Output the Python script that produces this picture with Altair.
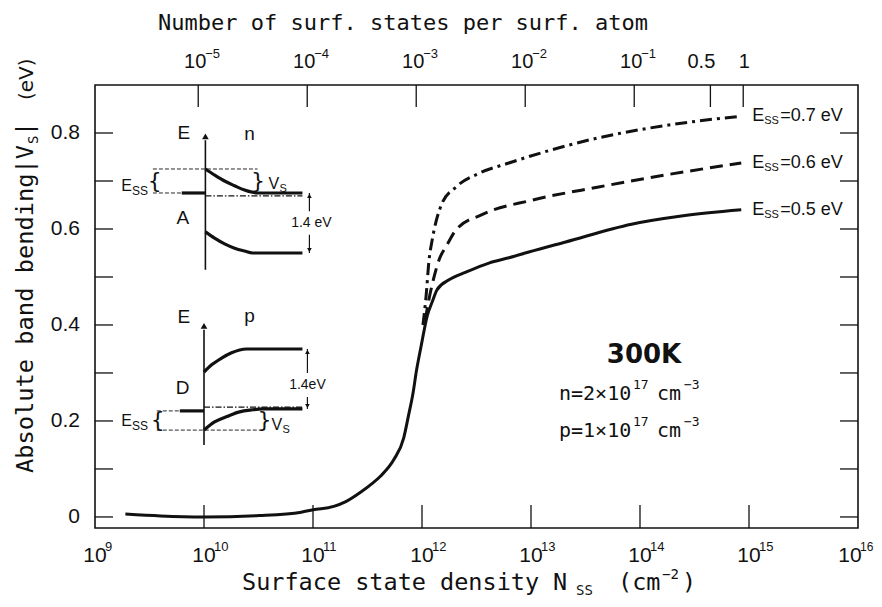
import altair as alt
import pandas as pd

# ---------------- values ----------------
# Surface state density N_ss (cm^-2) and absolute band bending |V_s| (eV)
n_05 = [1.9e9, 4.0e9, 1.0e10, 3.2e10, 7.8e10, 1.0e11, 1.55e11, 2.0e11, 2.75e11, 3.5e11, 4.2e11,
        5.5e11, 6.8e11, 7.5e11, 8.3e11, 8.9e11, 9.8e11, 1.12e12, 1.25e12, 1.37e12,
        1.77e12, 2.53e12, 4.11e12, 6.27e12, 9.55e12, 2.08e13, 8.36e13, 2.4e14, 8.49e14]
v_05 = [0.006, 0.002, 0.0, 0.003, 0.010, 0.015, 0.022, 0.032, 0.052, 0.070, 0.086,
        0.119, 0.165, 0.210, 0.260, 0.305, 0.355, 0.420, 0.450, 0.473,
        0.494, 0.510, 0.529, 0.540, 0.552, 0.573, 0.610, 0.627, 0.640]

n_06 = [1.07e12, 1.15e12, 1.29e12, 1.43e12, 1.70e12, 2.05e12, 3.55e12, 1.02e13, 4.17e13, 1.71e14, 8.49e14]
v_06 = [0.41, 0.45, 0.50, 0.535, 0.567, 0.598, 0.63, 0.66, 0.6875, 0.7125, 0.7375]

n_07 = [1.02e12, 1.09e12, 1.16e12, 1.24e12, 1.53e12, 2.05e12, 3.33e12, 6.27e12, 1.55e13,
        4.17e13, 1.2e14, 3.43e14, 8.49e14]
v_07 = [0.40, 0.46, 0.535, 0.577, 0.654, 0.6875, 0.716, 0.7375, 0.765,
        0.79, 0.81, 0.825, 0.835]

curve_names = ["0.5", "0.6", "0.7"]

# axes
x_tick_values = [1e10, 1e11, 1e12, 1e13, 1e14, 1e15]
x_label_values = [1e9, 1e10, 1e11, 1e12, 1e13, 1e14, 1e15, 1e16]
x_label_exps = ["9", "10", "11", "12", "13", "14", "15", "16"]
y_tick_values = [0.0, 0.1, 0.2, 0.3, 0.4, 0.5, 0.6, 0.7, 0.8]
y_label_values = [0.0, 0.2, 0.4, 0.6, 0.8]
y_label_texts = ["0", "0.2", "0.4", "0.6", "0.8"]
surf_atoms = 8.85e14          # surface atoms per cm^2 (top axis conversion)
top_fraction = [1e-5, 1e-4, 1e-3, 1e-2, 1e-1, 0.5, 1]
top_base = ["10", "10", "10", "10", "10", "0.5", "1"]
top_exp = ["\u22125", "\u22124", "\u22123", "\u22122", "\u22121", "", ""]

# inset schematics (band diagrams), in the same N / V units
insA_axis_N = [1.03e10, 1.03e10]
insA_axis_V = [0.515, 0.785]
insA_cb_N = [1.03e10, 1.25e10, 1.545e10, 1.91e10, 2.355e10, 3.1e10, 8.0e10]
insA_cb_V = [0.725, 0.7125, 0.70, 0.69, 0.681, 0.675, 0.675]
insA_vb_N = [1.03e10, 1.25e10, 1.545e10, 1.91e10, 2.355e10, 2.79e10, 8.0e10]
insA_vb_V = [0.594, 0.581, 0.569, 0.560, 0.554, 0.55, 0.55]
insA_stub_N = [6.25e9, 1.03e10]
insA_stub_V = [0.675, 0.675]
insA_ef_N = [1.03e10, 8.0e10]
insA_ef_V = [0.669, 0.669]
insA_brtop_N = [3.4e9, 3.1e10]
insA_brtop_V = [0.725, 0.725]
insA_brbot_N = [3.4e9, 6.25e9]
insA_brbot_V = [0.675, 0.675]
insA_gap_N = 9.27e10
insA_gap_V = [0.675, 0.55]

insD_axis_N = [1.0e10, 1.0e10]
insD_axis_V = [0.15, 0.39]
insD_cb_N = [1.0e10, 1.175e10, 1.45e10, 1.79e10, 2.12e10, 2.46e10, 8.0e10]
insD_cb_V = [0.302, 0.317, 0.331, 0.342, 0.348, 0.35, 0.35]
insD_vb_N = [1.0e10, 1.25e10, 1.65e10, 2.12e10, 2.73e10, 3.44e10, 8.0e10]
insD_vb_V = [0.181, 0.198, 0.210, 0.219, 0.223, 0.225, 0.225]
insD_stub_N = [6.0e9, 1.0e10]
insD_stub_V = [0.221, 0.221]
insD_ef_N = [1.0e10, 8.0e10]
insD_ef_V = [0.229, 0.229]
insD_brtop_N = [3.69e9, 6.0e9]
insD_brtop_V = [0.221, 0.221]
insD_brbot_N = [3.69e9, 3.44e10]
insD_brbot_V = [0.181, 0.181]
insD_gap_N = 8.89e10
insD_gap_V = [0.35, 0.225]

# ---------------- layout / style ----------------
W, H = 763, 443
X0, Y0 = 95, 85
MONO = "DejaVu Sans Mono"
SANS = "Liberation Sans, Arial, sans-serif"
NARROW = "Liberation Sans Narrow, Arial Narrow, Liberation Sans, sans-serif"
INK = "#111111"

xs = alt.Scale(type="log", domain=[1e9, 1e16])
ys = alt.Scale(domain=[-0.023, 0.9], zero=False, nice=False)
ONE = pd.DataFrame({"k": [0]})


def xenc():
    return alt.X("N:Q", scale=xs, axis=None)


def yenc():
    return alt.Y("V:Q", scale=ys, axis=None)


def line(N, V, width=3.0, dash=None, interp="monotone"):
    df = pd.DataFrame({"N": N, "V": V, "i": list(range(len(N)))})
    kw = dict(color=INK, strokeWidth=width, interpolate=interp, strokeJoin="round")
    if dash:
        kw["strokeDash"] = dash
    return alt.Chart(df).mark_line(**kw).encode(x=xenc(), y=yenc(), order="i:Q")


def tri(N, V, shape, size=40):
    df = pd.DataFrame({"N": [N], "V": [V]})
    return alt.Chart(df).mark_point(shape=shape, filled=True, size=size, color=INK,
                                    opacity=1, strokeWidth=0).encode(x=xenc(), y=yenc())


def label(s, px, py, size, font=MONO, align="left", baseline="alphabetic", angle=0, weight="normal"):
    return alt.Chart(ONE).mark_text(text=s, font=font, fontSize=size, align=align,
                                    baseline=baseline, angle=angle, fontWeight=weight,
                                    color=INK).encode(x=alt.value(px - X0), y=alt.value(py - Y0))


def dlabel(s, N, V, size, font=NARROW, align="center", baseline="middle", dx=0, dy=0):
    df = pd.DataFrame({"N": [N], "V": [V]})
    return alt.Chart(df).mark_text(text=s, font=font, fontSize=size, align=align,
                                   baseline=baseline, dx=dx, dy=dy, color=INK).encode(x=xenc(), y=yenc())


layers = []

# ---- ticks (inward) ----
layers.append(alt.Chart(pd.DataFrame({"N": x_tick_values})).mark_rule(color=INK, strokeWidth=1.3)
              .encode(x=xenc(), y=alt.value(H), y2=alt.value(H - 23)))
top_df = pd.DataFrame({"f": top_fraction, "base": top_base, "exp": top_exp})
top_df["N"] = top_df["f"] * surf_atoms
layers.append(alt.Chart(top_df).mark_rule(color=INK, strokeWidth=1.3)
              .encode(x=xenc(), y=alt.value(0), y2=alt.value(22)))
ytk = pd.DataFrame({"V": y_tick_values})
layers.append(alt.Chart(ytk).mark_rule(color=INK, strokeWidth=1.3)
              .encode(y=yenc(), x=alt.value(0), x2=alt.value(18)))
layers.append(alt.Chart(ytk).mark_rule(color=INK, strokeWidth=1.3)
              .encode(y=yenc(), x=alt.value(W - 18), x2=alt.value(W)))

# ---- tick labels ----
xl = pd.DataFrame({"N": x_label_values, "exp": x_label_exps})
xl_main = xl.iloc[:-1]
xl_last = xl.iloc[[-1]]
layers.append(alt.Chart(xl_main).mark_text(text="10", font=NARROW, fontSize=21, align="center",
                                           baseline="alphabetic", color=INK)
              .encode(x=xenc(), y=alt.value(H + 34)))
layers.append(alt.Chart(xl_main).mark_text(font=NARROW, fontSize=13, align="left",
                                           baseline="alphabetic", dx=10, color=INK)
              .encode(x=xenc(), y=alt.value(H + 23), text="exp:N"))
layers.append(alt.Chart(xl_last).mark_text(text="10", font=NARROW, fontSize=21, align="center",
                                           baseline="alphabetic", dx=-8, color=INK)
              .encode(x=xenc(), y=alt.value(H + 34)))
layers.append(alt.Chart(xl_last).mark_text(font=NARROW, fontSize=12, align="left",
                                           baseline="alphabetic", dx=2, color=INK)
              .encode(x=xenc(), y=alt.value(H + 23), text="exp:N"))
top_main = top_df[top_df["exp"] != ""]
top_plain = top_df[top_df["exp"] == ""]
layers.append(alt.Chart(top_main).mark_text(font=NARROW, fontSize=20, align="center",
                                            baseline="alphabetic", dx=-3, color=INK)
              .encode(x=xenc(), y=alt.value(-17), text="base:N"))
layers.append(alt.Chart(top_main).mark_text(font=NARROW, fontSize=13, align="left",
                                            baseline="alphabetic", dx=7, color=INK)
              .encode(x=xenc(), y=alt.value(-27), text="exp:N"))
layers.append(alt.Chart(top_plain.iloc[[0]]).mark_text(font=NARROW, fontSize=20, align="center",
                                                       baseline="alphabetic", dx=-9, color=INK)
              .encode(x=xenc(), y=alt.value(-17), text="base:N"))
layers.append(alt.Chart(top_plain.iloc[[1]]).mark_text(font=NARROW, fontSize=20, align="center",
                                                       baseline="alphabetic", dx=1, color=INK)
              .encode(x=xenc(), y=alt.value(-17), text="base:N"))
yl = pd.DataFrame({"V": y_label_values, "t": y_label_texts})
layers.append(alt.Chart(yl).mark_text(font=SANS, fontSize=21, align="right", baseline="middle",
                                      color=INK)
              .encode(y=yenc(), x=alt.value(-15), text="t:N"))

# ---- main curves ----
layers.append(line(n_05, v_05, 3.0))
layers.append(line(n_06, v_06, 3.0, dash=[13, 7]))
layers.append(line(n_07, v_07, 3.0, dash=[12, 5, 3, 5]))

# curve labels  E_ss = ... eV
for N_list, V_list, name in [(n_07, v_07, curve_names[2]), (n_06, v_06, curve_names[1]),
                             (n_05, v_05, curve_names[0])]:
    layers.append(dlabel("E", N_list[-1], V_list[-1], 18, align="left", dx=11))
    layers.append(dlabel("SS", N_list[-1], V_list[-1], 11, align="left", dx=23, dy=5))
    layers.append(dlabel("=" + name + " eV", N_list[-1], V_list[-1], 18, align="left", dx=39))

# ---- inset A (n-type) ----
layers.append(line(insA_axis_N, insA_axis_V, 1.6, interp="linear"))
layers.append(tri(insA_axis_N[0], 0.793, "triangle-up", 45))
layers.append(line(insA_cb_N, insA_cb_V, 3.2))
layers.append(line(insA_vb_N, insA_vb_V, 3.2))
layers.append(line(insA_stub_N, insA_stub_V, 3.2, interp="linear"))
layers.append(line(insA_ef_N, insA_ef_V, 1.2, dash=[6, 2, 1.5, 2], interp="linear"))
layers.append(line(insA_brtop_N, insA_brtop_V, 0.9, dash=[4, 2], interp="linear"))
layers.append(line(insA_brbot_N, insA_brbot_V, 0.9, dash=[4, 2], interp="linear"))
layers.append(line([insA_gap_N, insA_gap_N], [insA_gap_V[0], 0.637], 1.2, interp="linear"))
layers.append(line([insA_gap_N, insA_gap_N], [0.588, insA_gap_V[1]], 1.2, interp="linear"))
layers.append(tri(insA_gap_N, insA_gap_V[0] - 0.006, "triangle-up", 22))
layers.append(tri(insA_gap_N, insA_gap_V[1] + 0.006, "triangle-down", 22))
layers.append(dlabel("1.4 eV", 9.66e10, 0.6125, 14))
layers.append(dlabel("{", 3.54e9, 0.70, 22, font="DejaVu Sans"))
layers.append(dlabel("}", 3.13e10, 0.70, 22, font="DejaVu Sans"))
layers.append(dlabel("E", 2.18e9, 0.69, 16, align="right"))
layers.append(dlabel("SS", 2.18e9, 0.69, 12, align="left", dy=5))
layers.append(dlabel("V", 3.67e10, 0.694, 16, align="left", dx=3))
layers.append(dlabel("S", 3.67e10, 0.694, 11, align="left", dx=14, dy=5))
layers.append(dlabel("E", 6.52e9, 0.80, 19))
layers.append(dlabel("n", 2.62e10, 0.798, 19))
layers.append(dlabel("A", 6.38e9, 0.623, 19))

# ---- inset D (p-type) ----
layers.append(line(insD_axis_N, insD_axis_V, 1.6, interp="linear"))
layers.append(tri(insD_axis_N[0], 0.398, "triangle-up", 45))
layers.append(line(insD_cb_N, insD_cb_V, 3.2))
layers.append(line(insD_vb_N, insD_vb_V, 3.2))
layers.append(line(insD_stub_N, insD_stub_V, 3.2, interp="linear"))
layers.append(line(insD_ef_N, insD_ef_V, 1.2, dash=[6, 2, 1.5, 2], interp="linear"))
layers.append(line(insD_brtop_N, insD_brtop_V, 0.9, dash=[4, 2], interp="linear"))
layers.append(line(insD_brbot_N, insD_brbot_V, 0.9, dash=[4, 2], interp="linear"))
layers.append(line([insD_gap_N, insD_gap_N], [insD_gap_V[0], 0.30], 1.2, interp="linear"))
layers.append(line([insD_gap_N, insD_gap_N], [0.25, insD_gap_V[1]], 1.2, interp="linear"))
layers.append(tri(insD_gap_N, insD_gap_V[0] - 0.006, "triangle-up", 22))
layers.append(tri(insD_gap_N, insD_gap_V[1] + 0.006, "triangle-down", 22))
layers.append(dlabel("1.4eV", 8.89e10, 0.275, 14))
layers.append(dlabel("{", 3.77e9, 0.202, 22, font="DejaVu Sans"))
layers.append(dlabel("}", 3.59e10, 0.202, 22, font="DejaVu Sans"))
layers.append(dlabel("E", 2.18e9, 0.20, 16, align="right"))
layers.append(dlabel("SS", 2.18e9, 0.20, 12, align="left", dy=5))
layers.append(dlabel("V", 3.83e10, 0.192, 16, align="left", dx=4))
layers.append(dlabel("S", 3.83e10, 0.192, 11, align="left", dx=15, dy=5))
layers.append(dlabel("E", 6.52e9, 0.417, 19))
layers.append(dlabel("p", 2.62e10, 0.419, 19))
layers.append(dlabel("D", 6.38e9, 0.269, 19))

# ---- annotations ----
layers.append(label("300K", 644, 363, 26, font="DejaVu Sans", align="center", weight="bold"))
layers.append(label("n=2\u00d710", 559, 400, 20))
layers.append(label("17", 633, 389, 13))
layers.append(label("cm", 657, 400, 20))
layers.append(label("\u22123", 684, 389, 13))
layers.append(label("p=1\u00d710", 559, 437, 20))
layers.append(label("17", 633, 426, 13))
layers.append(label("cm", 657, 437, 20))
layers.append(label("\u22123", 684, 426, 13))

# ---- titles ----
layers.append(label("Number of surf. states per surf. atom", 158, 30, 22))
layers.append(label("Surface state density", 242, 590, 23.5))
layers.append(label("N", 553, 590, 23.5))
layers.append(label("SS", 576, 595, 14))
layers.append(label("(cm", 618, 590, 23.5))
layers.append(label("\u22122", 662, 579, 14))
layers.append(label(")", 682, 590, 23.5))
layers.append(label("Absolute band bending|V", 33, 473, 23.7, angle=270))
layers.append(label("S", 38, 144, 14, angle=270))
layers.append(label("|", 33, 136, 23.7, angle=270))
layers.append(label("(eV)", 33, 100, 20, font="DejaVu Sans", angle=270))

chart = alt.layer(*layers).properties(
    width=W, height=H,
    autosize=alt.AutoSizeParams(type="none"),
    padding={"left": 87, "top": 77, "right": 16, "bottom": 71},
    background="white",
).configure_view(stroke=INK, strokeWidth=1.6)

chart.save("out.html", embed_options={"renderer": "svg", "actions": False})
